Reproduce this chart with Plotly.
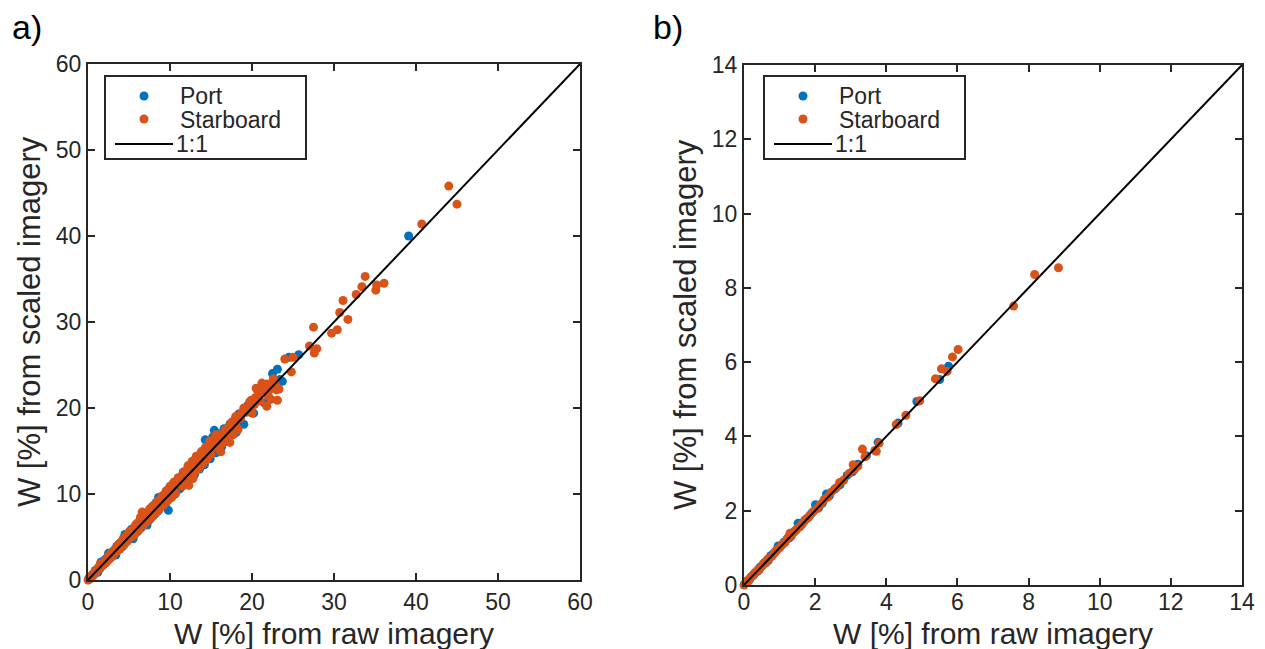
import plotly.graph_objects as go

# ---------------- data: panel a ----------------
port_a_raw = [0.1, 0.3, 0.5, 0.7, 0.9, 1.1, 1.3, 1.5, 1.7, 1.9, 2.1, 2.3, 2.6, 2.8, 3.0, 3.2, 3.5, 3.7, 3.9, 4.2,
              4.4, 4.6, 4.9, 5.1, 5.3, 5.6, 5.8, 6.0, 6.3, 6.5, 6.8, 7.0, 7.3, 7.5, 7.8, 8.0, 8.3, 8.5, 8.8, 9.0,
              9.3, 9.8, 9.6, 10.0, 10.4, 10.6, 11.0, 11.2, 11.6, 11.8, 12.2, 12.4, 12.8, 13.0, 13.4, 13.6, 14.0,
              14.3, 14.2, 14.6, 14.9, 15.2, 15.4, 15.6, 16.0, 16.3, 16.6, 17.0, 17.3, 18.1, 17.8, 18.4, 19.0,
              19.5, 20.2, 20.8, 21.5, 22.0, 22.5, 23.1, 23.7, 22.6, 23.4, 24.5, 25.7, 39.1,
              2.5, 3.4, 4.5, 5.5, 6.6, 7.2, 8.6, 9.4, 1.6, 1.2]
port_a_scaled = [0.2, 0.3, 0.6, 0.6, 1.1, 1.0, 1.5, 1.4, 1.9, 1.8, 2.4, 2.2, 2.9, 2.6, 3.3, 3.0, 3.9, 3.5, 4.3, 3.9,
                 4.9, 4.4, 5.4, 4.8, 5.9, 5.3, 6.3, 5.6, 6.9, 6.1, 7.4, 6.6, 7.9, 7.0, 8.5, 7.5, 9.0, 8.0, 9.5, 8.6,
                 9.9, 8.1, 10.4, 9.5, 11.2, 10.0, 11.8, 10.6, 12.5, 11.2, 13.1, 11.7, 13.7, 12.3, 14.4, 12.9, 15.0,
                 16.3, 13.4, 15.6, 14.1, 16.6, 17.4, 14.8, 17.0, 15.5, 17.6, 16.1, 18.1, 17.2, 17.0, 19.3, 18.1,
                 20.3, 19.4, 21.3, 20.6, 22.6, 24.0, 24.5, 23.1, 22.9, 23.3, 25.9, 26.2, 40.0,
                 3.1, 2.9, 5.3, 4.8, 7.4, 6.4, 9.6, 8.7, 2.1, 0.9]

star_a_raw = [0.0, 0.2, 0.4, 0.6, 0.8, 1.0, 1.2, 1.4, 1.6, 1.8, 2.0, 2.2, 2.4, 2.6, 2.8, 3.0, 3.3, 3.5, 3.7, 3.9,
              4.2, 4.4, 4.6, 4.8, 5.0, 5.3, 5.5, 5.7, 6.0, 6.2, 6.4, 6.6, 6.8, 7.0, 7.2, 7.5, 7.7, 8.0, 8.2, 8.5,
              8.7, 9.0, 9.2, 9.5, 9.7, 10.0, 10.2, 10.5, 10.7, 11.0, 11.2, 11.5, 11.7, 12.0, 12.2, 12.5, 12.7,
              13.0, 13.2, 13.5, 13.8, 14.0, 14.3, 14.5, 14.8, 15.0, 15.3, 15.6, 15.8, 16.1, 16.4, 16.7, 17.0,
              17.4, 17.7, 18.0, 18.3, 18.6, 19.0, 19.3, 19.7, 20.0, 20.4, 20.7, 21.0, 21.2, 21.5, 22.0, 22.3,
              23.0, 23.1, 22.6, 24.0, 24.8, 25.0, 27.0, 27.6, 27.9, 27.5, 29.7, 30.4, 30.7, 31.7, 31.1, 32.7,
              33.4, 33.8, 35.1, 35.2, 36.1, 40.7, 44.0, 45.0,
              5.2, 5.9, 6.5, 7.1, 7.8, 8.4, 8.9, 9.4, 9.9, 10.4, 10.9, 11.4, 11.9, 12.4, 12.9, 13.3, 13.7, 14.1,
              14.6, 15.1, 15.5, 15.9, 16.3, 16.8, 17.2, 17.6, 18.2, 18.8, 19.5, 19.9, 20.3, 20.9, 21.4, 21.8,
              22.2, 20.5, 12.3, 12.8, 16.2, 17.3, 18.0, 21.8, 22.8, 23.3,
              1.5, 2.7, 3.6, 4.3, 5.8, 6.9, 7.6, 8.1, 9.1, 10.1]
star_a_scaled = [0.0, 0.1, 0.5, 0.5, 0.9, 0.9, 1.3, 1.3, 1.8, 1.7, 2.2, 2.0, 2.7, 2.4, 3.1, 2.8, 3.6, 3.3, 4.1, 3.6,
                 4.6, 4.1, 5.1, 4.5, 5.6, 5.0, 6.0, 5.3, 6.6, 5.8, 7.3, 7.9, 6.4, 7.7, 6.8, 8.2, 7.2, 8.7, 7.7, 9.2,
                 8.2, 9.7, 8.7, 10.3, 9.2, 10.9, 9.6, 11.4, 10.1, 11.9, 11.5, 10.9, 12.6, 11.4, 13.3, 12.0, 13.8,
                 12.5, 14.4, 13.0, 14.9, 13.5, 15.4, 14.0, 16.1, 14.6, 16.4, 16.9, 15.4, 16.9, 15.9, 17.3, 16.5,
                 18.2, 16.9, 19.0, 17.5, 18.8, 20.0, 19.5, 20.7, 19.4, 21.2, 22.0, 20.8, 22.9, 22.4, 21.4, 21.0,
                 22.1, 20.9, 23.4, 25.7, 24.2, 25.9, 27.2, 26.4, 26.9, 29.4, 28.7, 29.1, 31.1, 30.3, 32.5, 33.2,
                 34.1, 35.3, 33.7, 34.3, 34.5, 41.4, 45.8, 43.7,
                 5.7, 6.2, 6.9, 7.6, 8.0, 8.8, 9.4, 9.9, 10.4, 10.9, 11.3, 12.0, 12.4, 13.0, 13.3, 13.9, 14.5, 14.8,
                 15.3, 15.8, 16.2, 16.5, 16.8, 17.5, 17.7, 18.4, 18.6, 19.5, 19.9, 20.9, 20.4, 21.7, 21.9, 22.8,
                 22.2, 22.3, 11.0, 11.8, 14.9, 16.0, 18.0, 20.2, 22.9, 22.2,
                 1.9, 3.0, 4.0, 4.8, 6.4, 7.3, 8.3, 8.6, 9.8, 10.6]

# ---------------- data: panel b ----------------
port_b_raw = [0.02, 0.08, 0.15, 0.22, 0.30, 0.38, 0.45, 0.52, 0.60, 0.68, 0.75, 0.83, 0.90, 0.96, 1.05, 1.12,
              1.20, 1.28, 1.36, 1.44, 1.52, 1.60, 1.70, 1.80, 1.90, 2.01, 2.10, 2.20, 2.32, 2.40, 2.55, 2.70,
              2.90, 3.05, 3.20, 3.44, 3.77, 4.33, 4.86, 5.50, 5.75]
port_b_scaled = [0.03, 0.09, 0.14, 0.24, 0.31, 0.37, 0.48, 0.53, 0.62, 0.66, 0.79, 0.84, 0.92, 1.05, 1.06, 1.15,
                 1.22, 1.27, 1.40, 1.46, 1.66, 1.60, 1.73, 1.81, 1.93, 2.16, 2.08, 2.20, 2.45, 2.40, 2.58, 2.70,
                 2.95, 3.05, 3.25, 3.48, 3.84, 4.36, 4.94, 5.53, 5.89]

star_b_raw = [0.00, 0.05, 0.10, 0.12, 0.18, 0.25, 0.28, 0.33, 0.40, 0.43, 0.50, 0.55, 0.62, 0.66, 0.72, 0.78,
              0.85, 0.88, 0.93, 1.00, 1.08, 1.15, 1.22, 1.29, 1.33, 1.40, 1.48, 1.56, 1.64, 1.72, 1.78, 1.85,
              1.95, 2.05, 2.15, 2.25, 2.35, 2.45, 2.60, 2.69, 2.80, 2.95, 3.07, 3.10, 3.20, 3.33, 3.40, 3.68,
              3.72, 3.80, 4.28, 4.55, 4.94, 5.38, 5.55, 5.71, 5.86, 6.02, 7.58, 8.17, 8.84]
star_b_scaled = [0.00, 0.05, 0.12, 0.10, 0.20, 0.25, 0.30, 0.35, 0.42, 0.41, 0.50, 0.58, 0.60, 0.69, 0.73, 0.77,
                 0.86, 0.90, 0.95, 1.00, 1.10, 1.14, 1.26, 1.39, 1.32, 1.42, 1.50, 1.56, 1.65, 1.76, 1.80, 1.87,
                 1.98, 2.05, 2.17, 2.30, 2.36, 2.50, 2.62, 2.76, 2.82, 3.00, 3.24, 3.10, 3.20, 3.66, 3.45, 3.62,
                 3.60, 3.82, 4.32, 4.57, 4.96, 5.55, 5.82, 5.75, 6.14, 6.34, 7.51, 8.36, 8.54]

one_to_one_a = [0, 60]
one_to_one_b = [0, 14]

series_names = ["Port", "Starboard", "1:1"]
x_title = "W [%] from raw imagery"
y_title = "W [%] from scaled imagery"
panel_labels = ["a)", "b)"]

# ---------------- style ----------------
VW, VH = 1265, 649          # browser window
OFF = 8                     # default page (body) margin
FW, FH = VW - OFF, VH - OFF  # figure size so that it ends at the window edge
BLUE = "#0072BD"
ORANGE = "#D95319"
AX = "#262626"
FONT = "Liberation Sans, Arial, Helvetica, sans-serif"
MS = 9


def px_x(p):
    """window pixel x -> paper fraction"""
    return (p - OFF) / FW


def px_y(p):
    """window pixel y -> paper fraction"""
    return 1 - (p - OFF) / FH


fig = go.Figure()


def add_panel(xr, yr, pxr, pyr, sx, sy, line):
    fig.add_trace(go.Scatter(x=pxr, y=pyr, mode="markers", name=series_names[0],
                             marker=dict(color=BLUE, size=MS, line=dict(width=0)),
                             xaxis=sx, yaxis=sy, cliponaxis=False, showlegend=False))
    fig.add_trace(go.Scatter(x=xr, y=yr, mode="markers", name=series_names[1],
                             marker=dict(color=ORANGE, size=MS, line=dict(width=0)),
                             xaxis=sx, yaxis=sy, cliponaxis=False, showlegend=False))
    fig.add_trace(go.Scatter(x=line, y=line, mode="lines", name=series_names[2],
                             line=dict(color="black", width=2),
                             xaxis=sx, yaxis=sy, showlegend=False))


add_panel(star_a_raw, star_a_scaled, port_a_raw, port_a_scaled, "x", "y", one_to_one_a)
add_panel(star_b_raw, star_b_scaled, port_b_raw, port_b_scaled, "x2", "y2", one_to_one_b)

axis_common = dict(showline=True, linecolor=AX, linewidth=2, mirror="ticks", ticks="inside",
                   ticklen=7, tickwidth=2, tickcolor=AX, showgrid=False, zeroline=False,
                   automargin=False,
                   tickfont=dict(family=FONT, size=23, color=AX), fixedrange=True)

fig.update_layout(
    template="none",
    width=FW, height=FH,
    margin=dict(l=0, r=0, t=0, b=0, pad=0),
    paper_bgcolor="white", plot_bgcolor="white",
    font=dict(family=FONT, color=AX),
    showlegend=False,
    xaxis=dict(domain=[px_x(88), px_x(580)], range=[0, 60], dtick=10, anchor="y", **axis_common),
    yaxis=dict(domain=[px_y(580), px_y(64)], range=[0, 60], dtick=10, anchor="x", **axis_common),
    xaxis2=dict(domain=[px_x(744), px_x(1242)], range=[0, 14], dtick=2, anchor="y2",
                ticklabelstandoff=-5, **axis_common),
    yaxis2=dict(domain=[px_y(585), px_y(65)], range=[0, 14], dtick=2, anchor="x2", **axis_common),
)

ann = []
shapes = []
for lbl, x in zip(panel_labels, (10, 651)):
    ann.append(dict(text=lbl, x=px_x(x), y=px_y(27), xref="paper", yref="paper", xanchor="left",
                    yanchor="middle", showarrow=False, font=dict(family=FONT, size=34, color="black")))
for cx in ((88 + 580) / 2, (744 + 1242) / 2):
    ann.append(dict(text=x_title, x=px_x(cx), y=px_y(633.5), xref="paper", yref="paper", xanchor="center",
                    yanchor="middle", showarrow=False, font=dict(family=FONT, size=30, color=AX)))
for cx, cy in ((29, (64 + 580) / 2), (685, (65 + 585) / 2)):
    ann.append(dict(text=y_title, x=px_x(cx), y=px_y(cy), xref="paper", yref="paper", xanchor="center",
                    yanchor="middle", textangle=-90, showarrow=False,
                    font=dict(family=FONT, size=31, color=AX)))

# legends (box, symbols, labels) for both panels
for dx in (0, 659):
    shapes.append(dict(type="rect", xref="paper", yref="paper",
                       x0=px_x(105 + dx), x1=px_x(306 + dx), y0=px_y(159), y1=px_y(76),
                       line=dict(color=AX, width=2), fillcolor="white", layer="above"))
    for yy, col in ((96, BLUE), (119, ORANGE)):
        shapes.append(dict(type="circle", xref="paper", yref="paper",
                           x0=px_x(144 + dx - MS / 2), x1=px_x(144 + dx + MS / 2),
                           y0=px_y(yy + MS / 2), y1=px_y(yy - MS / 2),
                           fillcolor=col, line=dict(width=0), layer="above"))
    shapes.append(dict(type="line", xref="paper", yref="paper",
                       x0=px_x(115 + dx), x1=px_x(173 + dx), y0=px_y(144), y1=px_y(144),
                       line=dict(color="black", width=2), layer="above"))
    for name, yy, xx in zip(series_names, (96, 120, 144), (178, 178, 174)):
        ann.append(dict(text=name, x=px_x(xx + dx), y=px_y(yy), xref="paper", yref="paper",
                        xanchor="left", yanchor="middle", showarrow=False,
                        font=dict(family=FONT, size=23, color=AX)))

fig.update_layout(annotations=ann, shapes=shapes)

fig.write_html("out.html")
